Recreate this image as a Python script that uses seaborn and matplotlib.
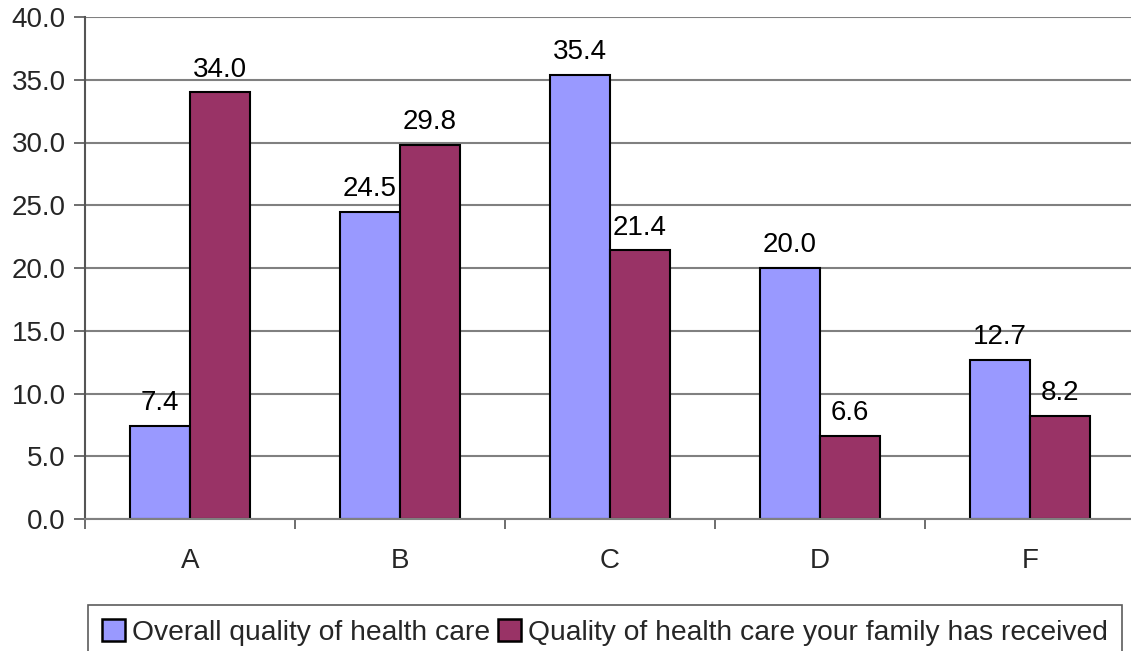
import matplotlib
matplotlib.use("Agg")
import matplotlib.pyplot as plt
import seaborn as sns
import pandas as pd
from matplotlib.patches import Patch

categories = ["A", "B", "C", "D", "F"]
overall = [7.4, 24.5, 35.4, 20.0, 12.7]
family = [34.0, 29.8, 21.4, 6.6, 8.2]
series_names = ["Overall quality of health care",
                "Quality of health care your family has received"]
colors = ["#9999FF", "#993366"]

df = pd.DataFrame({
    "grade": categories * 2,
    "value": overall + family,
    "series": [series_names[0]] * len(categories) + [series_names[1]] * len(categories),
})

sns.set_theme(style="white")
plt.rcParams["font.family"] = ["Liberation Sans", "DejaVu Sans"]

FS = 20

fig = plt.figure(figsize=(11.31, 6.51), dpi=100)
ax = fig.add_axes([85 / 1131, 1 - 519 / 651, 1050 / 1131, (519 - 17) / 651])

sns.barplot(data=df, x="grade", y="value", hue="series", palette=colors,
            width=0.57, edgecolor="black", linewidth=1.5, ax=ax, legend=False,
            saturation=1)

for cont in ax.containers:
    ax.bar_label(cont, fmt="%.1f", padding=7, fontsize=FS, color="black")

ax.set_ylim(0, 40)
ax.set_xlim(-0.5, len(categories) - 0.5)
ax.set_yticks([i * 5 for i in range(9)])
ax.set_yticklabels([f"{i * 5:.1f}" for i in range(9)], fontsize=FS)
ax.set_xticks(range(len(categories)))
ax.set_xticklabels(categories, fontsize=FS)
ax.tick_params(axis="x", length=0, pad=21)
ax.set_xticks([i + 0.5 for i in range(-1, len(categories))], minor=True)
ax.tick_params(axis="x", which="minor", length=7, width=1.2, color="#555555", direction="out", bottom=True)
ax.tick_params(axis="y", length=8, width=1.2, color="#555555", direction="out", left=True, pad=6)
ax.set_xlabel("")
ax.set_ylabel("")
ax.yaxis.grid(True, color="#808080", linewidth=1.5)
ax.set_axisbelow(True)
for s in ["top", "right"]:
    ax.spines[s].set_visible(False)
ax.spines["left"].set_color("#555555")
ax.spines["left"].set_linewidth(1.5)
ax.spines["bottom"].set_color("#808080")
ax.spines["bottom"].set_linewidth(1.5)

handles = [Patch(facecolor=c, edgecolor="black", linewidth=1.8) for c in colors]
leg = fig.legend(handles, series_names, loc="upper center",
                 bbox_to_anchor=(605 / 1131, 1 - 605 / 651), ncol=2,
                 fontsize=20.3, frameon=True, fancybox=False,
                 handlelength=0.8, handleheight=0.8, handletextpad=0.25,
                 columnspacing=0.3, borderpad=0.5, borderaxespad=0)
leg.get_frame().set_edgecolor("#333333")
leg.get_frame().set_linewidth(1.2)

fig.savefig("out.png", dpi=100)
